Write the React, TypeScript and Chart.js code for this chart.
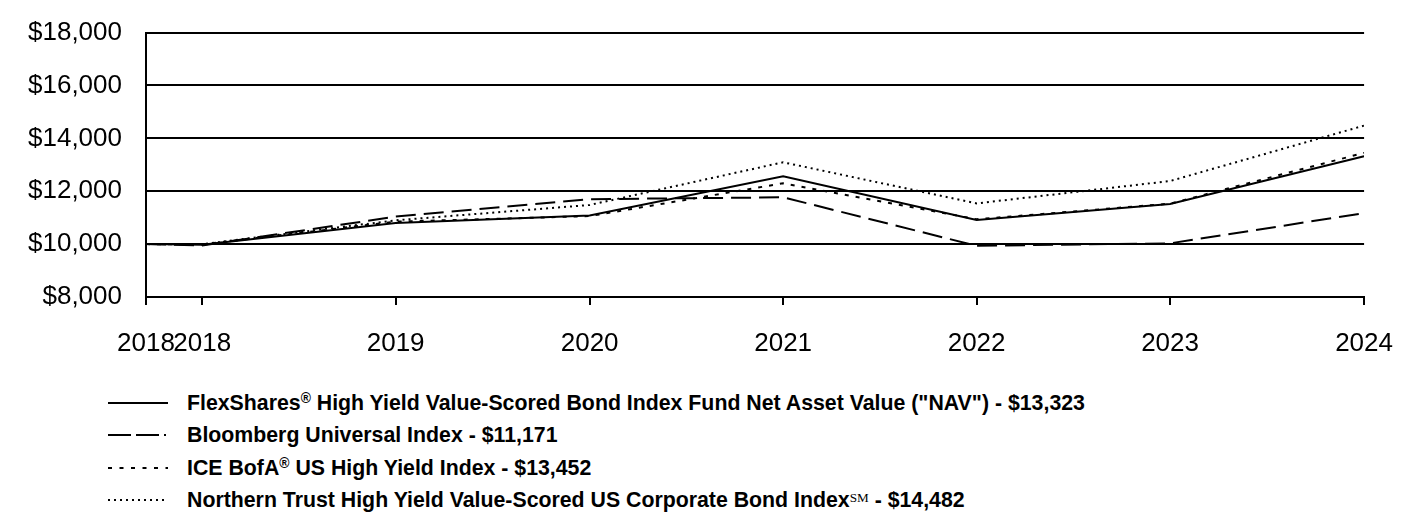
import React, { useEffect, useRef } from "react";
import { Chart, registerables } from "chart.js";
Chart.register(...registerables);

const periodDates = ["2018-07-17", "2018-10-31", "2019-10-31", "2020-10-31", "2021-10-31", "2022-10-31", "2023-10-31", "2024-10-31"];
const tickLabels = ["2018", "2018", "2019", "2020", "2021", "2022", "2023", "2024"];
const fundNav = [10000, 9980, 10795, 11080, 12570, 10910, 11520, 13323];
const bloombergUniversal = [10000, 9950, 11040, 11700, 11770, 9936, 10030, 11171];
const iceBofaHighYield = [10000, 9990, 10850, 11060, 12300, 10940, 11530, 13452];
const northernTrustIndex = [10000, 10000, 10900, 11480, 13095, 11540, 12386, 14482];
const yTicks = [8000, 10000, 12000, 14000, 16000, 18000];

const legendNames = [
  "FlexShares® High Yield Value-Scored Bond Index Fund Net Asset Value (\"NAV\") - $13,323",
  "Bloomberg Universal Index - $11,171",
  "ICE BofA® US High Yield Index - $13,452",
  "Northern Trust High Yield Value-Scored US Corporate Bond Index℠ - $14,482",
];

const dashes: number[][] = [[], [20, 8], [4, 7], [2, 4]];
const legendDashes = [undefined, "23 5 23 5 2 10", "4 7.5", "2 4"];
const FONT = "'Liberation Sans', Arial, sans-serif";

const toYears = (d: string) => Date.parse(d) / (365.25 * 86400000) + 1970;
const xs = periodDates.map(toYears);

function renderName(name: string) {
  const parts = name.split(/(®|℠)/);
  return parts.map((p, i) => {
    if (p === "®") return <sup key={i} style={{ fontSize: "0.65em", verticalAlign: "0.5em", lineHeight: 0 }}>®</sup>;
    if (p === "℠") return <span key={i} style={{ fontSize: "0.62em", verticalAlign: "0.35em", lineHeight: 0, fontWeight: "normal", fontFamily: "'Liberation Serif', serif" }}>SM</span>;
    return <span key={i}>{p}</span>;
  });
}

export default function App() {
  const ref = useRef<HTMLCanvasElement | null>(null);
  useEffect(() => {
    if (!ref.current) return;
    const series = [fundNav, bloombergUniversal, iceBofaHighYield, northernTrustIndex];
    const chart = new Chart(ref.current, {
      type: "line",
      data: {
        datasets: series.map((s, i) => ({
          label: legendNames[i],
          data: s.map((v, j) => ({ x: xs[j], y: v })),
          borderColor: "#000",
          borderWidth: 2,
          borderDash: dashes[i],
          pointRadius: 0,
          tension: 0,
          fill: false,
        })),
      },
      options: {
        animation: false,
        responsive: false,
        events: [],
        layout: { padding: { left: 0, right: 47, top: 26, bottom: 0 } },
        plugins: { legend: { display: false }, tooltip: { enabled: false } },
        scales: {
          x: {
            type: "linear",
            min: xs[0],
            max: xs[xs.length - 1],
            afterBuildTicks: (scale: any) => {
              scale.ticks = xs.map((v) => ({ value: v }));
            },
            afterFit: (scale: any) => {
              scale.height = 73;
            },
            border: { display: true, color: "#000", width: 2 },
            grid: { display: true, drawOnChartArea: false, drawTicks: true, tickLength: 8, color: "#000", lineWidth: 2 },
            ticks: {
              autoSkip: false,
              maxRotation: 0,
              padding: 23,
              color: "#000",
              font: { family: FONT, size: 26 },
              callback: (_v: any, i: number) => tickLabels[i],
            },
          },
          y: {
            min: 8000,
            max: 18000,
            afterBuildTicks: (scale: any) => {
              scale.ticks = yTicks.map((v) => ({ value: v }));
            },
            afterFit: (scale: any) => {
              scale.width = 146;
            },
            border: { display: true, color: "#000", width: 2 },
            grid: { color: "#000", lineWidth: 2, drawTicks: false },
            ticks: {
              padding: 24,
              color: "#000",
              font: { family: FONT, size: 26 },
              callback: (v: any) => "$" + Number(v).toLocaleString("en-US"),
            },
          },
        },
      },
    } as any);
    return () => chart.destroy();
  }, []);

  return (
    <div style={{ position: "absolute", left: 0, top: 0, width: 1416, height: 516, background: "#fff", fontFamily: FONT, overflow: "hidden" }}>
      <canvas ref={ref} width={1416} height={377} style={{ position: "absolute", left: 0, top: -7, display: "block", width: 1416, height: 377 }} />
      <div style={{ position: "absolute", left: 0, top: 387 }}>
        {legendNames.map((n, i) => (
          <div key={i} style={{ position: "relative", height: 32.3 }}>
            <svg width={60} height={10} style={{ position: "absolute", left: 108, top: 11 }}>
              <line x1={0} y1={5} x2={60} y2={5} stroke="#000" strokeWidth={2} strokeDasharray={legendDashes[i]} />
            </svg>
            <div style={{ position: "absolute", left: 187, top: 4, whiteSpace: "nowrap", fontWeight: "bold", fontSize: 21.3, color: "#000", lineHeight: "24px" }}>
              {renderName(n)}
            </div>
          </div>
        ))}
      </div>
    </div>
  );
}
